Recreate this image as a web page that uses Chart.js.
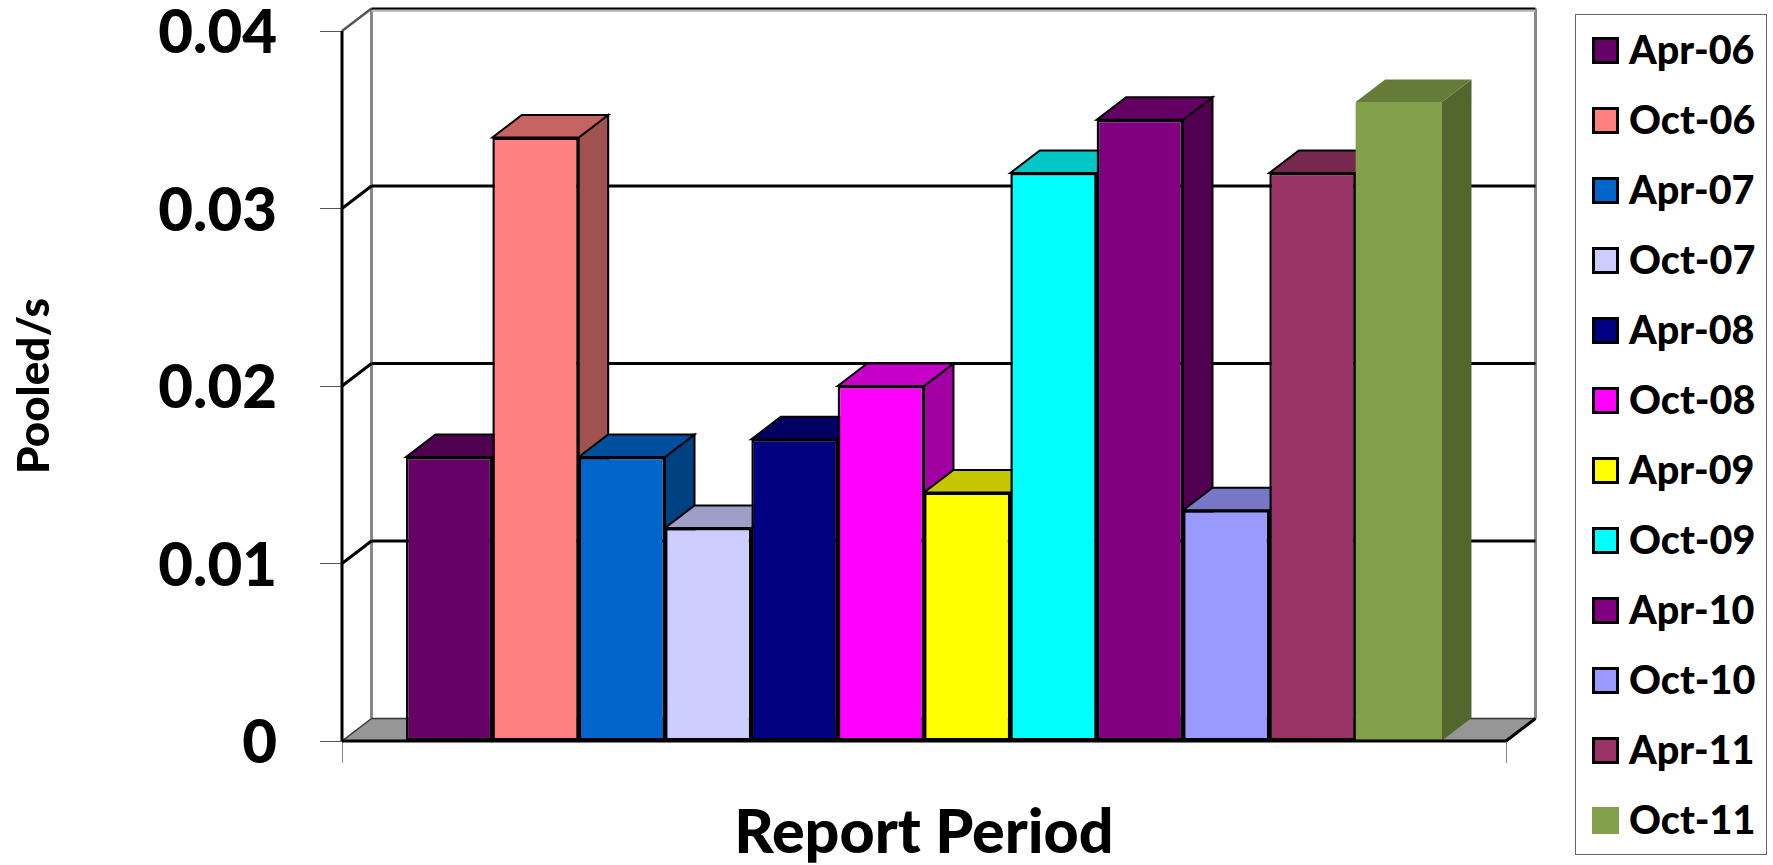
<!DOCTYPE html>
<html>
<head>
<meta charset="utf-8">
<title>Pooled/s by report period</title>
<script src="https://cdn.jsdelivr.net/npm/chart.js@4"></script>
<style>
    html, body { margin: 0; padding: 0; background: #fff; }
    #wrap { position: relative; width: 1773px; height: 865px; overflow: hidden; }
    #chart { position: absolute; left: 0; top: 0; }
    #legend {
        position: absolute; left: 1575px; top: 14px; width: 190px; height: 839px;
        border: 1px solid #666; background: #fff; margin: 0; padding: 0; list-style: none;
        font: 900 39.5px Lato, sans-serif; color: #000;
    }
    #legend li { display: flex; align-items: center; height: 70px; padding-left: 16px; }
    #legend .swatch { box-sizing: border-box; width: 27px; height: 27px; margin-right: 10px; flex: none; }
    #legend .name { position: relative; top: -2px; }
</style>
</head>
<body>
<div id="wrap">
    <canvas id="chart" width="1773" height="865"></canvas>
    <ul id="legend"></ul>
</div>
<script>
const periods = ['Apr-06', 'Oct-06', 'Apr-07', 'Oct-07', 'Apr-08', 'Oct-08', 'Apr-09', 'Oct-09', 'Apr-10', 'Oct-10', 'Apr-11', 'Oct-11'];
const pooledValues = [0.016, 0.034, 0.016, 0.012, 0.017, 0.020, 0.014, 0.032, 0.035, 0.013, 0.032, 0.036];
const barColors = ['#660066', '#FF8080', '#0066CC', '#CCCCFF', '#000080', '#FF00FF', '#FFFF00', '#00FFFF', '#800080', '#9999FF', '#993366', '#82A049'];
const yTickLabels = ['0', '0.01', '0.02', '0.03', '0.04'];

// how far the back wall sits behind the front plane
const DEPTH_X = 29.5;
const DEPTH_Y = 22.5;

function shade(hex, factor) {
    const n = parseInt(hex.slice(1), 16);
    const r = Math.round((n >> 16 & 255) * factor);
    const g = Math.round((n >> 8 & 255) * factor);
    const b = Math.round((n & 255) * factor);
    return `rgb(${r},${g},${b})`;
}

function polygon(ctx, points, fill, stroke, lineWidth) {
    ctx.beginPath();
    points.forEach((p, i) => (i ? ctx.lineTo(p[0], p[1]) : ctx.moveTo(p[0], p[1])));
    ctx.closePath();
    if (fill) {
        ctx.fillStyle = fill;
        ctx.fill();
    }
    if (stroke && lineWidth) {
        ctx.strokeStyle = stroke;
        ctx.lineWidth = lineWidth;
        ctx.stroke();
    }
}

function line(ctx, x1, y1, x2, y2, color, width) {
    ctx.beginPath();
    ctx.moveTo(x1, y1);
    ctx.lineTo(x2, y2);
    ctx.strokeStyle = color;
    ctx.lineWidth = width;
    ctx.stroke();
}

// walls, floor and gridlines of the 3D box, then the bar sides and tops left to right
const box3d = {
    id: 'box3d',
    beforeDatasetsDraw(chart) {
        const { ctx, chartArea: area, scales } = chart;
        const yScale = scales.y;
        const base = yScale.getPixelForValue(0);
        const top = yScale.getPixelForValue(0.04);
        const backLeft = area.left + DEPTH_X;
        const backRight = area.right + DEPTH_X;

        ctx.save();
        polygon(ctx, [[area.left, base], [backLeft, base - DEPTH_Y], [backRight, base - DEPTH_Y], [area.right, base]], '#969696');
        line(ctx, backLeft, base - DEPTH_Y, backLeft, top - DEPTH_Y, '#888', 3);
        line(ctx, backRight, base - DEPTH_Y, backRight, top - DEPTH_Y, '#888', 3);
        line(ctx, backLeft, base - DEPTH_Y, backRight, base - DEPTH_Y, '#333', 1.5);

        yScale.ticks.forEach(tick => {
            const y = yScale.getPixelForValue(tick.value);
            if (tick.value === 0) {
                return;
            }
            const isTop = tick.value === 0.04;
            if (isTop) {
                line(ctx, backLeft, y - DEPTH_Y + 2, backRight, y - DEPTH_Y + 2, '#b4b4b4', 2.5);
            }
            line(ctx, area.left, y, backLeft, y - DEPTH_Y, isTop ? '#555' : '#000', isTop ? 2.5 : 3);
            line(ctx, backLeft, y - DEPTH_Y, backRight, y - DEPTH_Y, '#000', isTop ? 2 : 3);
        });
        line(ctx, area.left, base, area.left, top, '#000', 3);
        line(ctx, area.left, base, backLeft, base - DEPTH_Y, '#333', 1.5);

        chart.data.datasets.forEach((dataset, i) => {
            const el = chart.getDatasetMeta(i).data[0];
            const { x, y, base: barBase, width } = el.getProps(['x', 'y', 'base', 'width'], true);
            const left = x - width / 2;
            const right = x + width / 2;
            const edge = dataset.borderWidth ? '#000' : null;
            polygon(ctx, [[right, y], [right + DEPTH_X, y - DEPTH_Y], [right + DEPTH_X, barBase - DEPTH_Y], [right, barBase]],
                shade(dataset.backgroundColor, 0.635), edge, 2);
            polygon(ctx, [[left, y], [left + DEPTH_X, y - DEPTH_Y], [right + DEPTH_X, y - DEPTH_Y], [right, y]],
                shade(dataset.backgroundColor, 0.775), edge, 2);
        });
        ctx.restore();
    },
    afterDatasetsDraw(chart) {
        const { ctx, chartArea: area, scales } = chart;
        const base = scales.y.getPixelForValue(0);
        ctx.save();
        line(ctx, area.left, base, area.right, base, '#000', 3);
        line(ctx, area.right, base, area.right + DEPTH_X, base - DEPTH_Y, '#000', 3);
        ctx.restore();
    }
};

const chart = new Chart(document.getElementById('chart'), {
    type: 'bar',
    data: {
        labels: [''],
        datasets: periods.map((period, i) => ({
            label: period,
            data: [pooledValues[i]],
            backgroundColor: barColors[i],
            borderColor: '#000',
            borderWidth: i === periods.length - 1 ? 0 : 2.5,
            borderSkipped: false
        }))
    },
    options: {
        responsive: false,
        animation: false,
        layout: { padding: { top: 31, right: 267, left: 0, bottom: 0 } },
        datasets: { bar: { categoryPercentage: 0.89, barPercentage: 1 } },
        plugins: {
            legend: { display: false },
            tooltip: { enabled: false }
        },
        scales: {
            x: {
                grid: { offset: true, drawOnChartArea: false, color: '#888', lineWidth: 1, tickLength: 22 },
                border: { display: false },
                ticks: { display: false },
                title: {
                    display: true,
                    text: 'Report Period',
                    color: '#000',
                    font: { family: 'Lato', weight: '900', size: 61, lineHeight: 1.03 },
                    padding: { top: 0, bottom: 0 }
                },
                afterFit(scale) {
                    scale.height = 124;
                }
            },
            y: {
                min: 0,
                max: 0.04,
                grid: { drawOnChartArea: false, color: '#555', lineWidth: 1, tickLength: 22 },
                border: { display: false },
                ticks: {
                    stepSize: 0.01,
                    padding: 43,
                    labelOffset: 3,
                    color: '#000',
                    font: { family: 'Lato', weight: '900', size: 60 },
                    callback: (value, index) => yTickLabels[index]
                },
                title: {
                    display: true,
                    text: 'Pooled/s',
                    color: '#000',
                    font: { family: 'Lato', weight: '900', size: 44 },
                    padding: { top: 8, bottom: 0 }
                },
                afterFit(scale) {
                    // tick label overhang must not push the plot area down
                    scale.width = 342;
                    scale.paddingTop = 0;
                    scale.paddingBottom = 0;
                }
            }
        }
    },
    plugins: [box3d]
});

// legend list built from the chart's datasets
const legendList = document.getElementById('legend');
chart.data.datasets.forEach(dataset => {
    const item = document.createElement('li');
    const swatch = document.createElement('span');
    swatch.className = 'swatch';
    swatch.style.background = dataset.backgroundColor;
    swatch.style.border = dataset.borderWidth ? '3px solid #000' : 'none';
    const name = document.createElement('span');
    name.className = 'name';
    name.textContent = dataset.label;
    item.appendChild(swatch);
    item.appendChild(name);
    legendList.appendChild(item);
});
</script>
</body>
</html>
